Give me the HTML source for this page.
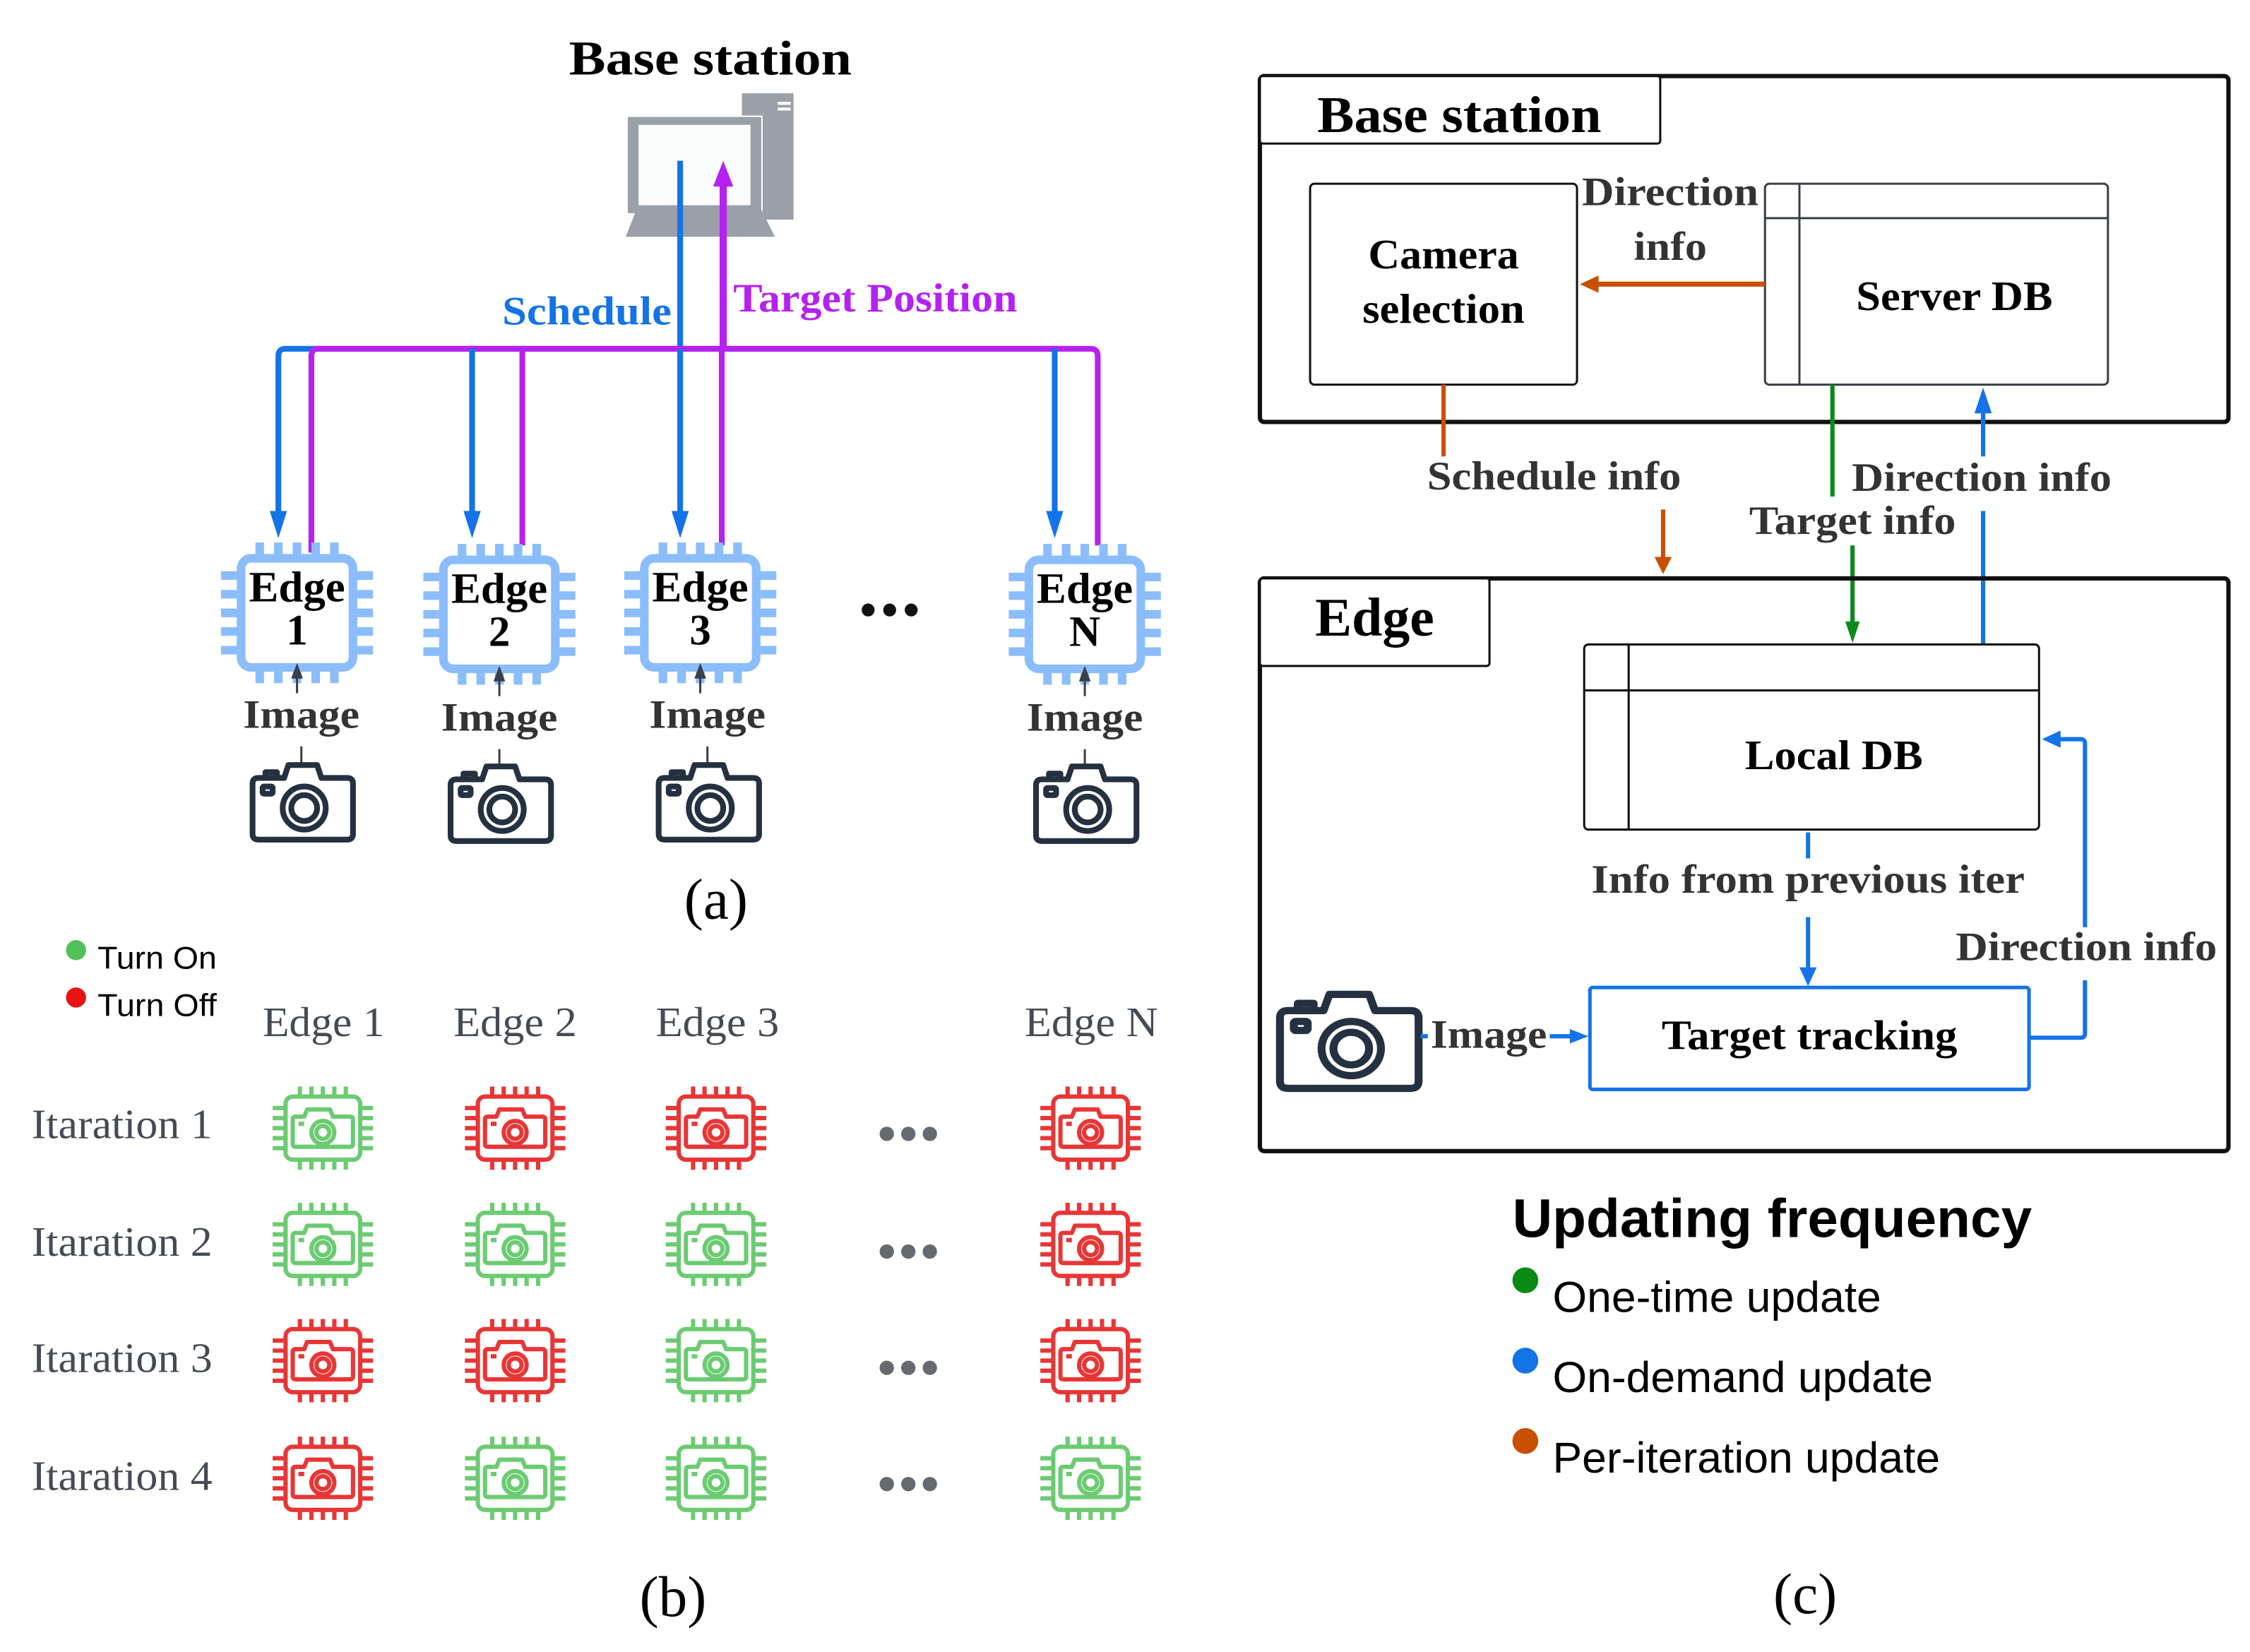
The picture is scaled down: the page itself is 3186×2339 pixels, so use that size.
<!DOCTYPE html>
<html><head><meta charset="utf-8"><style>
html,body{margin:0;padding:0;background:#fff;}
svg{display:block;}
.sb{font-family:"Liberation Serif",serif;font-weight:bold;}
.s{font-family:"Liberation Serif",serif;}
.ss{font-family:"Liberation Sans",sans-serif;}
</style></head><body>
<svg width="3186" height="2339" viewBox="0 0 1568 1151" preserveAspectRatio="none" xmlns="http://www.w3.org/2000/svg">
<defs>
<g id="cam" fill="none" stroke="#253040" stroke-width="4" stroke-linejoin="round">
  <path d="M4 12 H22 L25 3 H45 L48 12 H66 Q70 12 70 16 V51 Q70 55 66 55 H4 Q0 55 0 51 V16 Q0 12 4 12 Z"/>
  <path d="M9 12 V8 H17 V12"/>
  <circle cx="36" cy="33" r="15"/><circle cx="36" cy="33" r="9"/>
  <rect x="7" y="18" width="7" height="5" rx="1"/>
</g>
<g id="chipA" fill="none" stroke="#8bbdfc" stroke-width="6">
  <rect x="-39" y="-38" width="78" height="76" rx="7" fill="#fff"/>
  <path d="M-26 -38 V-49 M-13 -38 V-49 M0 -38 V-49 M13 -38 V-49 M26 -38 V-49 M-26 38 V49 M-13 38 V49 M0 38 V49 M13 38 V49 M26 38 V49 M-39 -26 H-53 M-39 -13 H-53 M-39 0 H-53 M-39 13 H-53 M-39 26 H-53 M39 -26 H53 M39 -13 H53 M39 0 H53 M39 13 H53 M39 26 H53"/>
</g>
<g id="chipB" fill="none" stroke-width="3">
  <rect x="-26" y="-22" width="52" height="44" rx="5"/>
  <path d="M-16 -22 V-29 M-8 -22 V-29 M0 -22 V-29 M8 -22 V-29 M16 -22 V-29 M-16 22 V29 M-8 22 V29 M0 22 V29 M8 22 V29 M16 22 V29 M-26 -14 H-35 M-26 -7 H-35 M-26 0 H-35 M-26 7 H-35 M-26 14 H-35 M26 -14 H35 M26 -7 H35 M26 0 H35 M26 7 H35 M26 14 H35"/>
  <path d="M-19 -8 H-13 L-11 -13 H5 L7 -8 H19 Q21 -8 21 -6 V11 Q21 13 19 13 H-19 Q-21 13 -21 11 V-6 Q-21 -8 -19 -8 Z" stroke-linejoin="round"/>
  <circle cx="0" cy="3" r="8"/><circle cx="0" cy="3" r="4.5"/>
  <path d="M-17 -3 H-13"/>
</g>
<g id="on"><use href="#chipB" stroke="#6ccb72"/></g>
<g id="off"><use href="#chipB" stroke="#e83636"/></g>
</defs>

<!-- (a) -->
<text class="sb" x="495" y="52" font-size="34" text-anchor="middle" textLength="197" lengthAdjust="spacingAndGlyphs">Base station</text>
<rect x="517" y="65" width="36" height="88" fill="#9aa0a8"/>
<rect x="542" y="71" width="9" height="2" fill="#fff"/><rect x="542" y="75" width="9" height="2" fill="#fff"/>
<rect x="437" y="81" width="94" height="68" fill="#9aa0a8" stroke="#fff" stroke-width="1"/>
<rect x="445" y="87" width="78" height="56" fill="#fbfcfc"/>
<rect x="475" y="150" width="19" height="7" fill="#9aa0a8"/>
<path d="M444 157 H530 L540 177 H436 Z" fill="#9aa0a8" transform="translate(0,-12)"/>
<path d="M474 112 V243 M735 243 H199 Q194 243 194 248 V365" fill="none" stroke="#1473e6" stroke-width="4"/>
<path d="M217 385 V248 Q217 243 222 243 H760 Q765 243 765 248 V380" fill="none" stroke="#b521f0" stroke-width="4"/>
<path d="M504 243 V128" stroke="#b521f0" stroke-width="5"/>
<path d="M497 130 L504 112 L511 130 Z" fill="#b521f0"/>
<path d="M329 243 V365 M474 243 V365 M735 243 V365" stroke="#1473e6" stroke-width="4"/>
<path d="M364 243 V380 M503 243 V380" stroke="#b521f0" stroke-width="4"/>
<g fill="#1473e6">
<path d="M188 356 L194 375 L200 356 Z"/><path d="M323 356 L329 375 L335 356 Z"/>
<path d="M468 356 L474 375 L480 356 Z"/><path d="M729 356 L735 375 L741 356 Z"/>
</g>
<text class="sb" x="350" y="226" font-size="28" fill="#1473e6" textLength="118" lengthAdjust="spacingAndGlyphs">Schedule</text>
<text class="sb" x="511" y="217" font-size="28" fill="#b521f0" textLength="198" lengthAdjust="spacingAndGlyphs">Target Position</text>

<g>
<use href="#chipA" x="207" y="427"/>
<use href="#chipA" x="348" y="428"/>
<use href="#chipA" x="488" y="427"/>
<use href="#chipA" x="756" y="428"/>
</g>
<g class="sb" font-size="30" text-anchor="middle">
<text x="207" y="419" textLength="67" lengthAdjust="spacingAndGlyphs">Edge</text><text x="207" y="449">1</text>
<text x="348" y="420" textLength="67" lengthAdjust="spacingAndGlyphs">Edge</text><text x="348" y="450">2</text>
<text x="488" y="419" textLength="67" lengthAdjust="spacingAndGlyphs">Edge</text><text x="488" y="449">3</text>
<text x="756" y="420" textLength="67" lengthAdjust="spacingAndGlyphs">Edge</text><text x="756" y="450">N</text>
</g>
<g stroke="#3a3f48" stroke-width="1.5" fill="#3a3f48">
<path d="M207 483 V470"/><path d="M204 472 L207 464 L210 472 Z"/>
<path d="M348 485 V472"/><path d="M345 474 L348 466 L351 474 Z"/>
<path d="M488 483 V470"/><path d="M485 472 L488 464 L491 472 Z"/>
<path d="M756 485 V472"/><path d="M753 474 L756 466 L759 474 Z"/>
<path d="M210 520 V532 M348 522 V534 M493 520 V532 M756 522 V534"/>
</g>
<g class="sb" font-size="28" fill="#333" text-anchor="middle">
<text x="210" y="507" textLength="81" lengthAdjust="spacingAndGlyphs">Image</text>
<text x="348" y="509" textLength="81" lengthAdjust="spacingAndGlyphs">Image</text>
<text x="493" y="507" textLength="81" lengthAdjust="spacingAndGlyphs">Image</text>
<text x="756" y="509" textLength="81" lengthAdjust="spacingAndGlyphs">Image</text>
</g>
<use href="#cam" x="176" y="530"/><use href="#cam" x="314" y="531"/>
<use href="#cam" x="459" y="530"/><use href="#cam" x="722" y="531"/>
<g fill="#111"><circle cx="605" cy="425" r="4.5"/><circle cx="620" cy="425" r="4.5"/><circle cx="635" cy="425" r="4.5"/></g>
<text class="s" x="499" y="640" font-size="40" text-anchor="middle">(a)</text>

<!-- (b) -->
<circle cx="53" cy="662" r="7" fill="#52c15a"/>
<circle cx="53" cy="695" r="7" fill="#e81313"/>
<text class="ss" x="68" y="675" font-size="22" textLength="83" lengthAdjust="spacingAndGlyphs">Turn On</text>
<text class="ss" x="68" y="708" font-size="22" textLength="83" lengthAdjust="spacingAndGlyphs">Turn Off</text>
<g class="s" font-size="29" fill="#454b55">
<text x="183" y="722" textLength="85" lengthAdjust="spacingAndGlyphs">Edge 1</text>
<text x="316" y="722" textLength="86" lengthAdjust="spacingAndGlyphs">Edge 2</text>
<text x="457" y="722" textLength="86" lengthAdjust="spacingAndGlyphs">Edge 3</text>
<text x="714" y="722" textLength="93" lengthAdjust="spacingAndGlyphs">Edge N</text>
<text x="22" y="793" textLength="126" lengthAdjust="spacingAndGlyphs">Itaration 1</text>
<text x="22" y="875" textLength="126" lengthAdjust="spacingAndGlyphs">Itaration 2</text>
<text x="22" y="956" textLength="126" lengthAdjust="spacingAndGlyphs">Itaration 3</text>
<text x="22" y="1038" textLength="126" lengthAdjust="spacingAndGlyphs">Itaration 4</text>
</g>
<use href="#on" x="225" y="786"/><use href="#off" x="359" y="786"/><use href="#off" x="499" y="786"/><use href="#off" x="760" y="786"/>
<use href="#on" x="225" y="867"/><use href="#on" x="359" y="867"/><use href="#on" x="499" y="867"/><use href="#off" x="760" y="867"/>
<use href="#off" x="225" y="948"/><use href="#off" x="359" y="948"/><use href="#on" x="499" y="948"/><use href="#off" x="760" y="948"/>
<use href="#off" x="225" y="1030"/><use href="#on" x="359" y="1030"/><use href="#on" x="499" y="1030"/><use href="#on" x="760" y="1030"/>
<g fill="#666a70">
<circle cx="618" cy="790" r="5"/><circle cx="633" cy="790" r="5"/><circle cx="648" cy="790" r="5"/>
<circle cx="618" cy="872" r="5"/><circle cx="633" cy="872" r="5"/><circle cx="648" cy="872" r="5"/>
<circle cx="618" cy="953" r="5"/><circle cx="633" cy="953" r="5"/><circle cx="648" cy="953" r="5"/>
<circle cx="618" cy="1034" r="5"/><circle cx="633" cy="1034" r="5"/><circle cx="648" cy="1034" r="5"/>
</g>
<text class="s" x="469" y="1126" font-size="40" text-anchor="middle">(b)</text>

<!-- (c) -->
<rect x="878" y="53" width="675" height="241" rx="3" fill="none" stroke="#111" stroke-width="3"/>
<rect x="878" y="53" width="279" height="47" rx="2" fill="#fff" stroke="#111" stroke-width="1.5"/>
<text class="sb" x="1017" y="92" font-size="36" text-anchor="middle" textLength="198" lengthAdjust="spacingAndGlyphs">Base station</text>
<rect x="913" y="128" width="186" height="140" rx="3" fill="#fff" stroke="#111" stroke-width="1.5"/>
<text class="sb" x="1006" y="187" font-size="29" text-anchor="middle" textLength="105" lengthAdjust="spacingAndGlyphs">Camera</text>
<text class="sb" x="1006" y="225" font-size="29" text-anchor="middle" textLength="113" lengthAdjust="spacingAndGlyphs">selection</text>
<rect x="1230" y="128" width="239" height="140" rx="3" fill="#fff" stroke="#3a3f48" stroke-width="1.5"/>
<path d="M1230 152 H1469 M1254 128 V268" stroke="#3a3f48" stroke-width="1.5"/>
<text class="sb" x="1362" y="216" font-size="29" text-anchor="middle" textLength="137" lengthAdjust="spacingAndGlyphs">Server DB</text>
<text class="sb" x="1164" y="143" font-size="28" fill="#333" text-anchor="middle" textLength="123" lengthAdjust="spacingAndGlyphs">Direction</text>
<text class="sb" x="1164" y="181" font-size="28" fill="#333" text-anchor="middle" textLength="51" lengthAdjust="spacingAndGlyphs">info</text>
<path d="M1230 198 H1112" stroke="#c85000" stroke-width="3.5"/>
<path d="M1114 192 L1101 198 L1114 204 Z" fill="#c85000"/>
<path d="M1006 268 V318" stroke="#c85000" stroke-width="3"/>
<path d="M1159 355 V390" stroke="#c85000" stroke-width="3"/>
<path d="M1153 388 L1159 400 L1165 388 Z" fill="#c85000"/>
<text class="sb" x="1083" y="341" font-size="28" fill="#333" text-anchor="middle" textLength="177" lengthAdjust="spacingAndGlyphs">Schedule info</text>
<path d="M1277 268 V346" stroke="#0a8a1a" stroke-width="3"/>
<path d="M1291 380 V437" stroke="#0a8a1a" stroke-width="3"/>
<path d="M1286 433 L1291 448 L1296 433 Z" fill="#0a8a1a"/>
<text class="sb" x="1291" y="372" font-size="28" fill="#333" text-anchor="middle" textLength="144" lengthAdjust="spacingAndGlyphs">Target info</text>
<path d="M1382 449 V356 M1382 318 V282" stroke="#1473e6" stroke-width="3"/>
<path d="M1376 288 L1382 270 L1388 288 Z" fill="#1473e6"/>
<text class="sb" x="1381" y="342" font-size="28" fill="#333" text-anchor="middle" textLength="181" lengthAdjust="spacingAndGlyphs">Direction info</text>

<rect x="878" y="403" width="675" height="399" rx="3" fill="none" stroke="#111" stroke-width="3"/>
<rect x="878" y="403" width="160" height="61" rx="2" fill="#fff" stroke="#111" stroke-width="1.5"/>
<text class="sb" x="958" y="443" font-size="38" text-anchor="middle" textLength="83" lengthAdjust="spacingAndGlyphs">Edge</text>
<rect x="1104" y="449" width="317" height="129" rx="3" fill="#fff" stroke="#111" stroke-width="1.5"/>
<path d="M1104 481 H1421 M1135 449 V578" stroke="#111" stroke-width="1.5"/>
<text class="sb" x="1278" y="536" font-size="29" text-anchor="middle" textLength="124" lengthAdjust="spacingAndGlyphs">Local DB</text>
<path d="M1260 580 V598 M1260 639 V676" stroke="#1473e6" stroke-width="3"/>
<path d="M1254 674 L1260 687 L1266 674 Z" fill="#1473e6"/>
<text class="sb" x="1260" y="622" font-size="28" fill="#333" text-anchor="middle" textLength="302" lengthAdjust="spacingAndGlyphs">Info from previous iter</text>
<rect x="1108" y="688" width="306" height="71" rx="2" fill="#fff" stroke="#1473e6" stroke-width="2.5"/>
<text class="sb" x="1261" y="731" font-size="29" text-anchor="middle" textLength="206" lengthAdjust="spacingAndGlyphs">Target tracking</text>
<path d="M1414 723 H1450 Q1453 723 1453 720 V683 M1453 646 V518 Q1453 515 1450 515 H1434" fill="none" stroke="#1473e6" stroke-width="3"/>
<path d="M1436 509 L1423 515 L1436 521 Z" fill="#1473e6"/>
<text class="sb" x="1454" y="669" font-size="28" fill="#333" text-anchor="middle" textLength="182" lengthAdjust="spacingAndGlyphs">Direction info</text>
<g transform="translate(892,689) scale(1.38,1.26)"><use href="#cam"/></g>
<path d="M990 722 H995 M1080 722 H1096" stroke="#1473e6" stroke-width="3"/>
<path d="M1094 717 L1107 722 L1094 727 Z" fill="#1473e6"/>
<text class="sb" x="997" y="730" font-size="28" fill="#333" textLength="81" lengthAdjust="spacingAndGlyphs">Image</text>

<text class="ss" x="1054" y="862" font-size="38" font-weight="bold" textLength="362" lengthAdjust="spacingAndGlyphs">Updating frequency</text>
<circle cx="1063" cy="892" r="9" fill="#088a14"/>
<circle cx="1063" cy="948" r="9" fill="#1473e6"/>
<circle cx="1063" cy="1004" r="9" fill="#c85000"/>
<text class="ss" x="1082" y="914" font-size="30" textLength="229" lengthAdjust="spacingAndGlyphs">One-time update</text>
<text class="ss" x="1082" y="970" font-size="30" textLength="265" lengthAdjust="spacingAndGlyphs">On-demand update</text>
<text class="ss" x="1082" y="1026" font-size="30" textLength="270" lengthAdjust="spacingAndGlyphs">Per-iteration update</text>
<text class="s" x="1258" y="1124" font-size="40" text-anchor="middle">(c)</text>
</svg>
</body></html>
